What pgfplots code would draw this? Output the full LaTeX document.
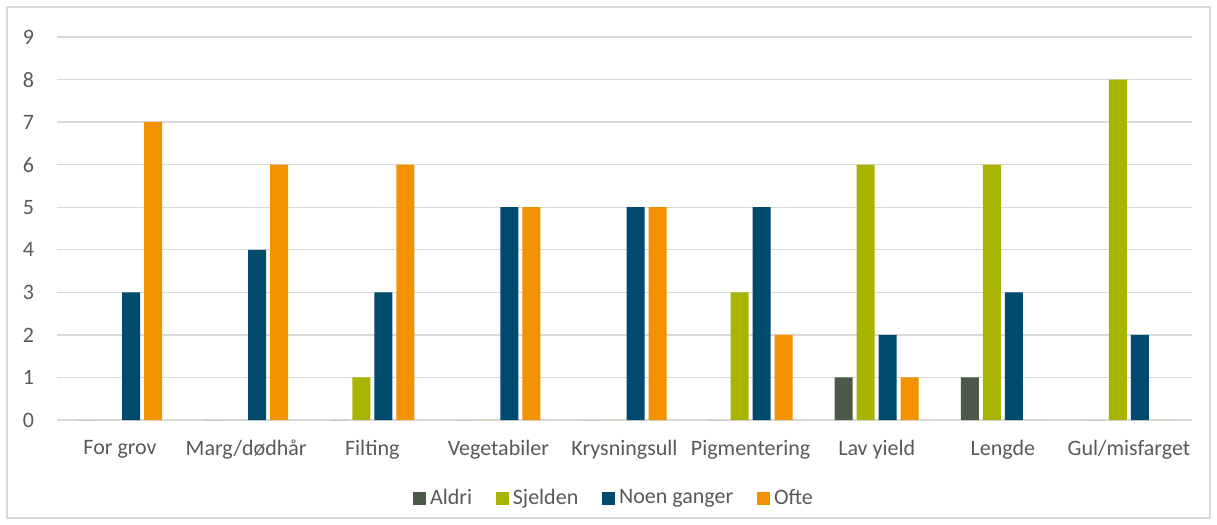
\documentclass[border=0pt]{standalone}
\usepackage{pgfplots}
\pgfplotsset{compat=1.18}
\usepackage{fontspec}
\setmainfont{Carlito}
\definecolor{cAldri}{HTML}{4B5948}
\definecolor{cSjelden}{HTML}{A9B400}
\definecolor{cNoen}{HTML}{004A6E}
\definecolor{cOfte}{HTML}{F39200}
\definecolor{gridc}{HTML}{D9D9D9}
\definecolor{txt}{HTML}{595959}
\begin{document}
\begin{tikzpicture}
\path (-28.5pt,-52.5pt) rectangle (580pt,210pt);
\draw[gridc, line width=0.7pt] (-25pt,-49pt) rectangle (576.5pt,206.5pt);
\begin{axis}[
  at={(0pt,0pt)}, anchor=south west,
  scale only axis, width=567.5pt, height=191.5pt,
  ybar=2pt, bar width=9pt,
  xmin=-0.5, xmax=8.5, ymin=0, ymax=9,
  ytick={0,...,9}, xtick={0,...,8},
  xticklabels={For grov, Marg/dødhår, Filting, Vegetabiler, Krysningsull, Pigmentering, Lav yield, Lengde, Gul/misfarget},
  ymajorgrids, xmajorgrids=false, grid style={draw=gridc, line width=0.7pt},
  axis line style={draw=none}, major tick length=0pt,
  /pgf/number format/assume math mode=true,
  tick label style={font=\fontsize{11}{13}\selectfont, text=txt},
  yticklabel style={xshift=-8pt},
  xticklabel style={yshift=-6.5pt},
  legend style={at={(0.4916,-0.204)}, anchor=center, draw=none, legend columns=-1,
    font=\fontsize{11}{13}\selectfont, text=txt,
    nodes={inner xsep=2.2pt},
    /tikz/every even column/.append style={column sep=9.5pt}},
  legend image code/.code={\fill[#1] (0pt,-3.25pt) rectangle (6.5pt,3.25pt);},
  clip=false,
]
\addplot[fill=cAldri, draw=none] coordinates {(0,0) (1,0) (2,0) (3,0) (4,0) (5,0) (6,1) (7,1) (8,0)};
\addplot[fill=cSjelden, draw=none] coordinates {(0,0) (1,0) (2,1) (3,0) (4,0) (5,3) (6,6) (7,6) (8,8)};
\addplot[fill=cNoen, draw=none] coordinates {(0,3) (1,4) (2,3) (3,5) (4,5) (5,5) (6,2) (7,3) (8,2)};
\addplot[fill=cOfte, draw=none] coordinates {(0,7) (1,6) (2,6) (3,5) (4,5) (5,2) (6,1) (7,0) (8,0)};
\legend{Aldri, Sjelden, Noen ganger, Ofte}
\end{axis}
\end{tikzpicture}
\end{document}
